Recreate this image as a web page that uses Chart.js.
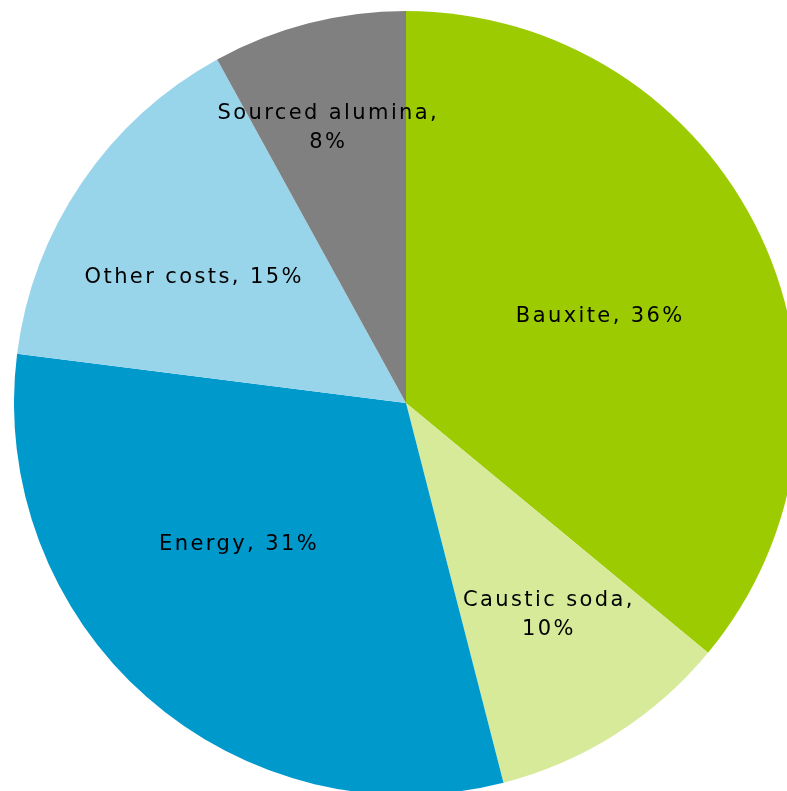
<!DOCTYPE html>
<html>
<head>
<meta charset="utf-8">
<script src="https://cdn.jsdelivr.net/npm/chart.js@4"></script>
<style>
  html, body { margin: 0; padding: 0; background: #fff; overflow: hidden; width: 787px; height: 791px; }
  #wrap { position: absolute; left: 14px; top: 11px; width: 784px; height: 784px; }
</style>
</head>
<body>
<div id="wrap"><canvas id="c"></canvas></div>
<script>
const categories = ["Bauxite", "Caustic soda", "Energy", "Other costs", "Sourced alumina"];
const shares = [36, 10, 31, 15, 8];
const labelLines = [
  ["Bauxite, 36%"],
  ["Caustic soda,", "10%"],
  ["Energy, 31%"],
  ["Other costs, 15%"],
  ["Sourced alumina,", "8%"]
];
const colors = ["#9BCB00", "#D7EA9A", "#0099CC", "#99D5EA", "#808080"];
// label anchor: radius fraction and angle (deg clockwise from top)
const labelPlace = [
  { f: 0.54, a: 65.8 },
  { f: 0.65, a: 146.2 },
  { f: 0.56, a: 230.0 },
  { f: 0.63, a: 300.4 },
  { f: 0.73, a: 344.0 }
];

const labelPlugin = {
  id: 'sliceLabels',
  afterDatasetsDraw(chart) {
    const ctx = chart.ctx;
    const meta = chart.getDatasetMeta(0);
    ctx.save();
    ctx.font = '21px "DejaVu Sans", Verdana, sans-serif';
    ctx.letterSpacing = '2.4px';
    ctx.fillStyle = '#000';
    ctx.textAlign = 'center';
    ctx.textBaseline = 'middle';
    meta.data.forEach((arc, i) => {
      const p = labelPlace[i];
      const r = arc.outerRadius * p.f;
      const t = p.a * Math.PI / 180;
      const x = arc.x + r * Math.sin(t) + 1.2;
      const y = arc.y - r * Math.cos(t);
      const lines = labelLines[i];
      const lh = 29;
      lines.forEach((ln, k) => {
        ctx.fillText(ln, x, y + (k - (lines.length - 1) / 2) * lh);
      });
    });
    ctx.restore();
  }
};

new Chart(document.getElementById('c'), {
  type: 'pie',
  data: {
    labels: categories,
    datasets: [{
      data: shares,
      backgroundColor: colors,
      borderWidth: 0
    }]
  },
  options: {
    responsive: true,
    maintainAspectRatio: false,
    animation: false,
    layout: { padding: 0 },
    plugins: { legend: { display: false }, tooltip: { enabled: false } }
  },
  plugins: [labelPlugin]
});
</script>
</body>
</html>
